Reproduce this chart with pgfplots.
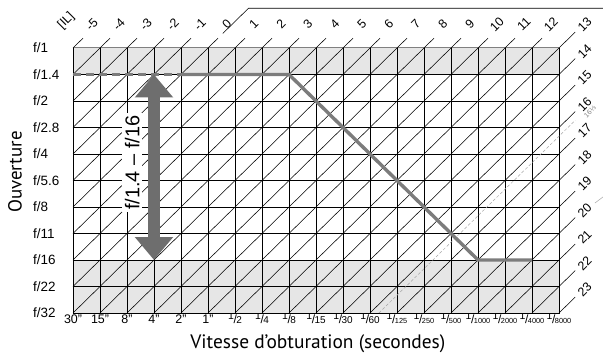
\documentclass[border=0pt]{standalone}
\usepackage{fontspec}
\setmainfont{Liberation Sans}
\newfontfamily\labfont{PT Sans}
\usepackage{pgfplots}
\pgfplotsset{compat=1.18}
\usetikzlibrary{arrows.meta}

\definecolor{shade}{HTML}{E6E6E6}
\definecolor{prog}{HTML}{7C7C7C}
\definecolor{arr}{HTML}{6E6E6E}

\newcommand{\fr}[2]{\raisebox{4bp}{\fontsize{10.5}{10}\selectfont #1}\kern-0.3bp{\fontsize{12}{12}\selectfont/}\kern-0.6bp{\fontsize{10}{10}\selectfont #2}}
\newcommand{\frs}[2]{\raisebox{4bp}{\fontsize{10.5}{10}\selectfont #1}\kern-0.3bp{\fontsize{12}{12}\selectfont/}\kern-0.6bp{\fontsize{7.4}{8}\selectfont #2}}

\begin{document}
\begin{tikzpicture}
\useasboundingbox (-73bp,-45bp) rectangle (530bp,313bp);
\begin{axis}[
  at={(0,0)}, anchor=south west,
  scale only axis, width=486bp, height=265bp,
  xmin=0, xmax=18, ymin=0, ymax=10,
  clip=false,
  axis line style={black, line width=0.7bp},
  xtick={0,...,18}, ytick={0,...,10},
  tick style={draw=none},
  xticklabels={30", 15", 8", 4", 2", 1", \fr{1}{2}, \fr{1}{4}, \fr{1}{8}, \fr{1}{15}, \fr{1}{30}, \fr{1}{60}, \frs{1}{125}, \frs{1}{250}, \frs{1}{500}, \frs{1}{1000}, \frs{1}{2000}, \frs{1}{4000}, \frs{1}{8000}},
  yticklabels={f/32,f/22,f/16,f/11,f/8,f/5.6,f/4,f/2.8,f/2,f/1.4,f/1},
  xticklabel style={anchor=base, yshift=-10bp, inner sep=0pt, font=\fontsize{12.5}{13}\selectfont},
  yticklabel style={anchor=west, xshift=-40bp, inner sep=0pt, font=\fontsize{13.5}{14}\selectfont},
]
% shaded bands
\addplot[fill=shade, draw=none] coordinates {(0,9)(18,9)(18,10)(0,10)(0,9)};
\addplot[fill=shade, draw=none] coordinates {(0,0)(18,0)(18,2)(0,2)(0,0)};
% grid
\addplot[ycomb, black, line width=0.6bp] coordinates {(0,10)(1,10)(2,10)(3,10)(4,10)(5,10)(6,10)(7,10)(8,10)(9,10)(10,10)(11,10)(12,10)(13,10)(14,10)(15,10)(16,10)(17,10)(18,10)};
\addplot[xcomb, black, line width=0.7bp] coordinates {(18,0)(18,1)(18,2)(18,3)(18,4)(18,5)(18,6)(18,7)(18,8)(18,9)};
\addplot[gray, line width=1bp] coordinates {(0,10)(18,10)};
% EV diagonals
\addplot[black, line width=0.55bp, unbounded coords=jump] coordinates {
(0,10)(0.37,10.37) (0,nan)
(0,9)(1.37,10.37) (0,nan)
(0,8)(2.37,10.37) (0,nan)
(0,7)(3.37,10.37) (0,nan)
(0,6)(4.37,10.37) (0,nan)
(0,5)(5.37,10.37) (0,nan)
(5.55,10.55)(6.5,11.5)(19.63,11.5) (0,nan)
(0,4)(6.37,10.37) (0,nan)
(0,3)(7.37,10.37) (0,nan)
(0,2)(8.37,10.37) (0,nan)
(0,1)(9.37,10.37) (0,nan)
(0,0)(10.37,10.37) (0,nan)
(1,0)(11.37,10.37) (0,nan)
(2,0)(12.37,10.37) (0,nan)
(3,0)(13.37,10.37) (0,nan)
(4,0)(14.37,10.37) (0,nan)
(5,0)(15.37,10.37) (0,nan)
(6,0)(16.37,10.37) (0,nan)
(7,0)(17.37,10.37) (0,nan)
(8,0)(18.6,10.6) (0,nan)
(9,0)(18.6,9.6) (0,nan)
(10,0)(18.6,8.6) (0,nan)
(11,0)(18.6,7.6) (0,nan)
(12,0)(18.6,6.6) (0,nan)
(13,0)(18.6,5.6) (0,nan)
(14,0)(18.6,4.6) (0,nan)
(15,0)(18.6,3.6) (0,nan)
(16,0)(18.6,2.6) (0,nan)
(17,0)(18.6,1.6) (0,nan)
(18,0)(18.6,0.6)
};
% EV 16 1/3 dashed
\addplot[gray!70, line width=0.5bp, dash pattern=on 3bp off 2bp] coordinates {(11.33,0)(18.6,7.27)};
\addplot[gray!60, line width=0.6bp] coordinates {(19.33,4.15)(19.63,4.38)};
% program line
\addplot[prog, line width=3.4bp, dash pattern=on 8bp off 5bp] coordinates {(0,9)(4,9)};
\addplot[prog, line width=3.4bp, line join=round] coordinates {(4,9)(8,9)(15,2)(17,2)};
% range arrow
\addplot[arr, line width=12bp, {Triangle[width=37bp,length=23bp]}-{Triangle[width=37bp,length=23bp]}] coordinates {(3,9)(3,2)};
\node[rotate=90, fill=white, inner sep=2.5bp, font=\fontsize{20}{21}\selectfont] at (axis cs:2.19,5.67) {f/1.4 – f/16};
% top EV labels
\begin{scope}[every node/.style={rotate=45, font=\fontsize{12.5}{13}\selectfont, inner sep=0pt}]
\node at (axis cs:-0.25,11.02) {[IL]};
\node at (axis cs:0.7,10.9) {-5};
\node at (axis cs:1.7,10.9) {-4};
\node at (axis cs:2.7,10.9) {-3};
\node at (axis cs:3.7,10.9) {-2};
\node at (axis cs:4.7,10.9) {-1};
\node at (axis cs:5.7,10.9) {0};
\node at (axis cs:6.7,10.9) {1};
\node at (axis cs:7.7,10.9) {2};
\node at (axis cs:8.7,10.9) {3};
\node at (axis cs:9.7,10.9) {4};
\node at (axis cs:10.7,10.9) {5};
\node at (axis cs:11.7,10.9) {6};
\node at (axis cs:12.7,10.9) {7};
\node at (axis cs:13.7,10.9) {8};
\node at (axis cs:14.7,10.9) {9};
\node at (axis cs:15.7,10.9) {10};
\node at (axis cs:16.7,10.9) {11};
\node at (axis cs:17.7,10.9) {12};
\node at (axis cs:18.95,10.87) {13};
\node at (axis cs:18.95,9.87) {14};
\node at (axis cs:18.95,8.87) {15};
\node at (axis cs:18.95,7.87) {16};
\node at (axis cs:18.95,6.87) {17};
\node at (axis cs:18.95,5.87) {18};
\node at (axis cs:18.95,4.87) {19};
\node at (axis cs:18.95,3.87) {20};
\node at (axis cs:18.95,2.87) {21};
\node at (axis cs:18.95,1.87) {22};
\node at (axis cs:18.95,0.87) {23};
\end{scope}
\node[rotate=45, text=gray, font=\fontsize{7}{7}\selectfont, inner sep=0pt] at (axis cs:19.15,7.6) {16⅓};
% axis titles
\node[rotate=90, font=\labfont\fontsize{19}{20}\selectfont] at (axis cs:-2.15,5.32) {Ouverture};
\node[font=\labfont\fontsize{19.5}{20}\selectfont] at (axis cs:9.07,-1.17) {Vitesse d’obturation (secondes)};
\end{axis}
\end{tikzpicture}
\end{document}
